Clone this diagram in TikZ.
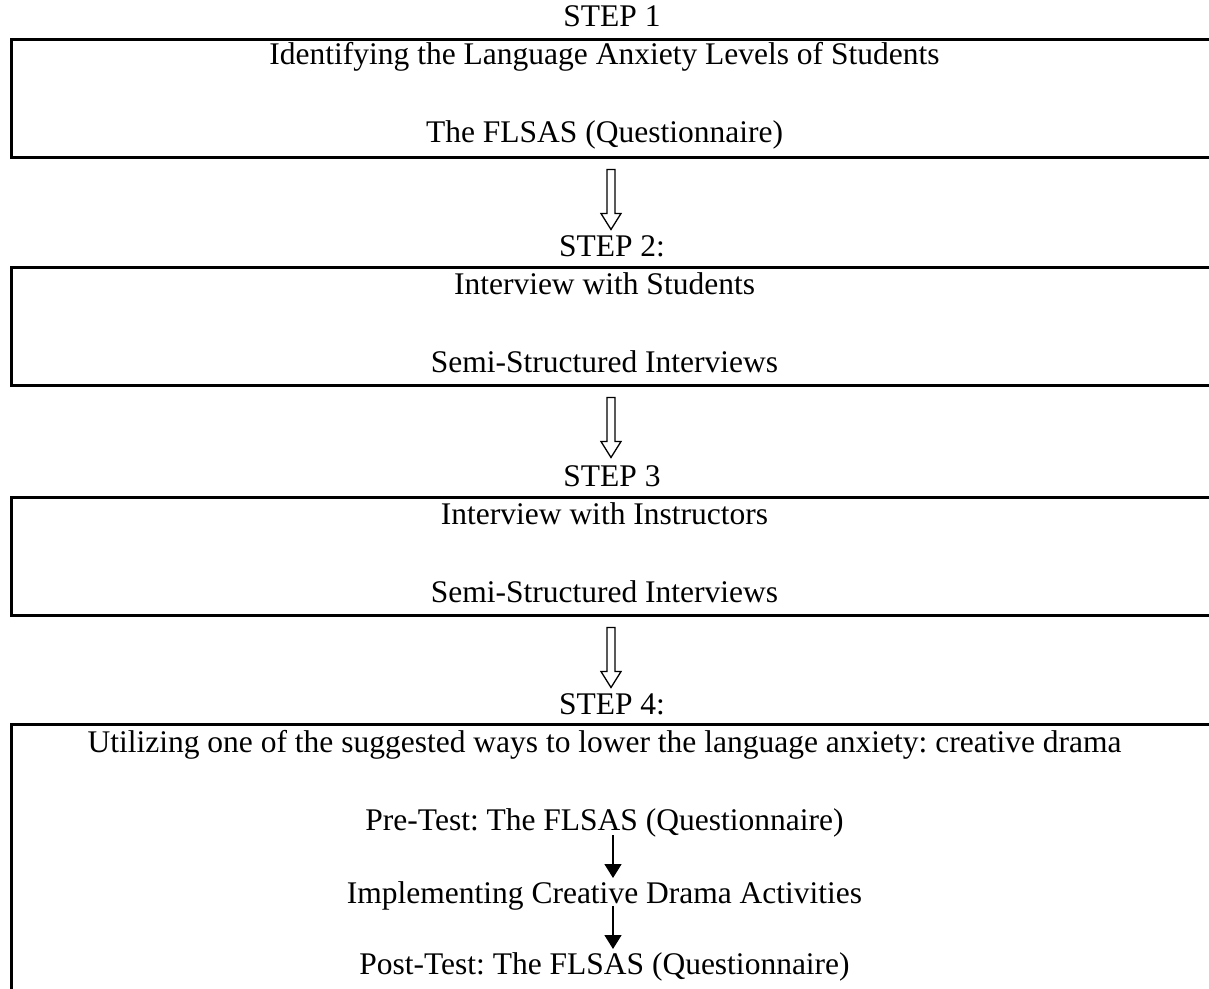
\documentclass[tikz,border=0pt]{standalone}
\usepackage{fontspec}
\setmainfont{Liberation Serif}
\usetikzlibrary{arrows.meta,calc}

\tikzset{
  stagebox/.style={draw, line width=2.5pt, anchor=north west, inner sep=0pt,
    minimum width=1215pt, minimum height=118pt},
  label/.style={font=\fontsize{31.5}{38}\selectfont, inner sep=0pt, anchor=base},
  hollowarrow/.pic={
    \draw[line width=1.3pt, line join=miter]
      (-4,0) -- (-4,44) -- (-10,44) -- (0,60) -- (10,44) -- (4,44) -- (4,0) -- cycle;
  },
  flow/.style={line width=1.5pt, -{Triangle[width=17pt,length=14pt]}},
}

\begin{document}
\frenchspacing
\begin{tikzpicture}[x=1pt, y=-1pt]
  \useasboundingbox (0,0) rectangle (1209,988);
  \clip (0,0) rectangle (1209,988);
  \coordinate (axis) at (611,0);

  % stage boxes (open to the right and below the page edge)
  \node[stagebox] (b1) at (10,38) {};
  \node[stagebox] (b2) at (10,266) {};
  \node[stagebox] (b3) at (10,496) {};
  \node[stagebox, minimum height=300pt] (b4) at (10,723) {};

  % step headings
  \node[label] (s1) at (612,26) {STEP 1};
  \node[label] (s2) at (612,256) {STEP 2:};
  \node[label] (s3) at (612,486) {STEP 3};
  \node[label] (s4) at (612,714) {STEP 4:};

  % box contents
  \node[label] (t1a) at (604.5,64) {Identifying the Language Anxiety Levels of Students};
  \node[label] (t1b) at (604.5,142) {The FLSAS (Questionnaire)};
  \node[label] (t2a) at (604.5,294) {Interview with Students};
  \node[label] (t2b) at (604.5,372) {Semi-Structured Interviews};
  \node[label] (t3a) at (604.5,524) {Interview with Instructors};
  \node[label] (t3b) at (604.5,602) {Semi-Structured Interviews};
  \node[label] (t4a) at (604.5,752) {Utilizing one of the suggested ways to lower the language anxiety: creative drama};
  \node[label] (pre) at (604.5,830) {Pre-Test: The FLSAS (Questionnaire)};
  \node[label] (imp) at (604.5,903) {Implementing Creative Drama Activities};
  \node[label] (post) at (604.5,974) {Post-Test: The FLSAS (Questionnaire)};

  % hollow arrows between stages
  \pic at ($(b1.south -| axis)+(0,11)$) {hollowarrow};
  \pic at ($(b2.south -| axis)+(0,11)$) {hollowarrow};
  \pic at ($(b3.south -| axis)+(0,11)$) {hollowarrow};

  % arrows inside the last stage
  \coordinate (inner) at (613,0);
  \draw[flow] ($(pre.base -| inner)+(0,5)$) -- ($(imp.base -| inner)+(0,-25)$);
  \draw[flow] ($(imp.base -| inner)+(0,3)$) -- ($(post.base -| inner)+(0,-25)$);
\end{tikzpicture}
\end{document}
